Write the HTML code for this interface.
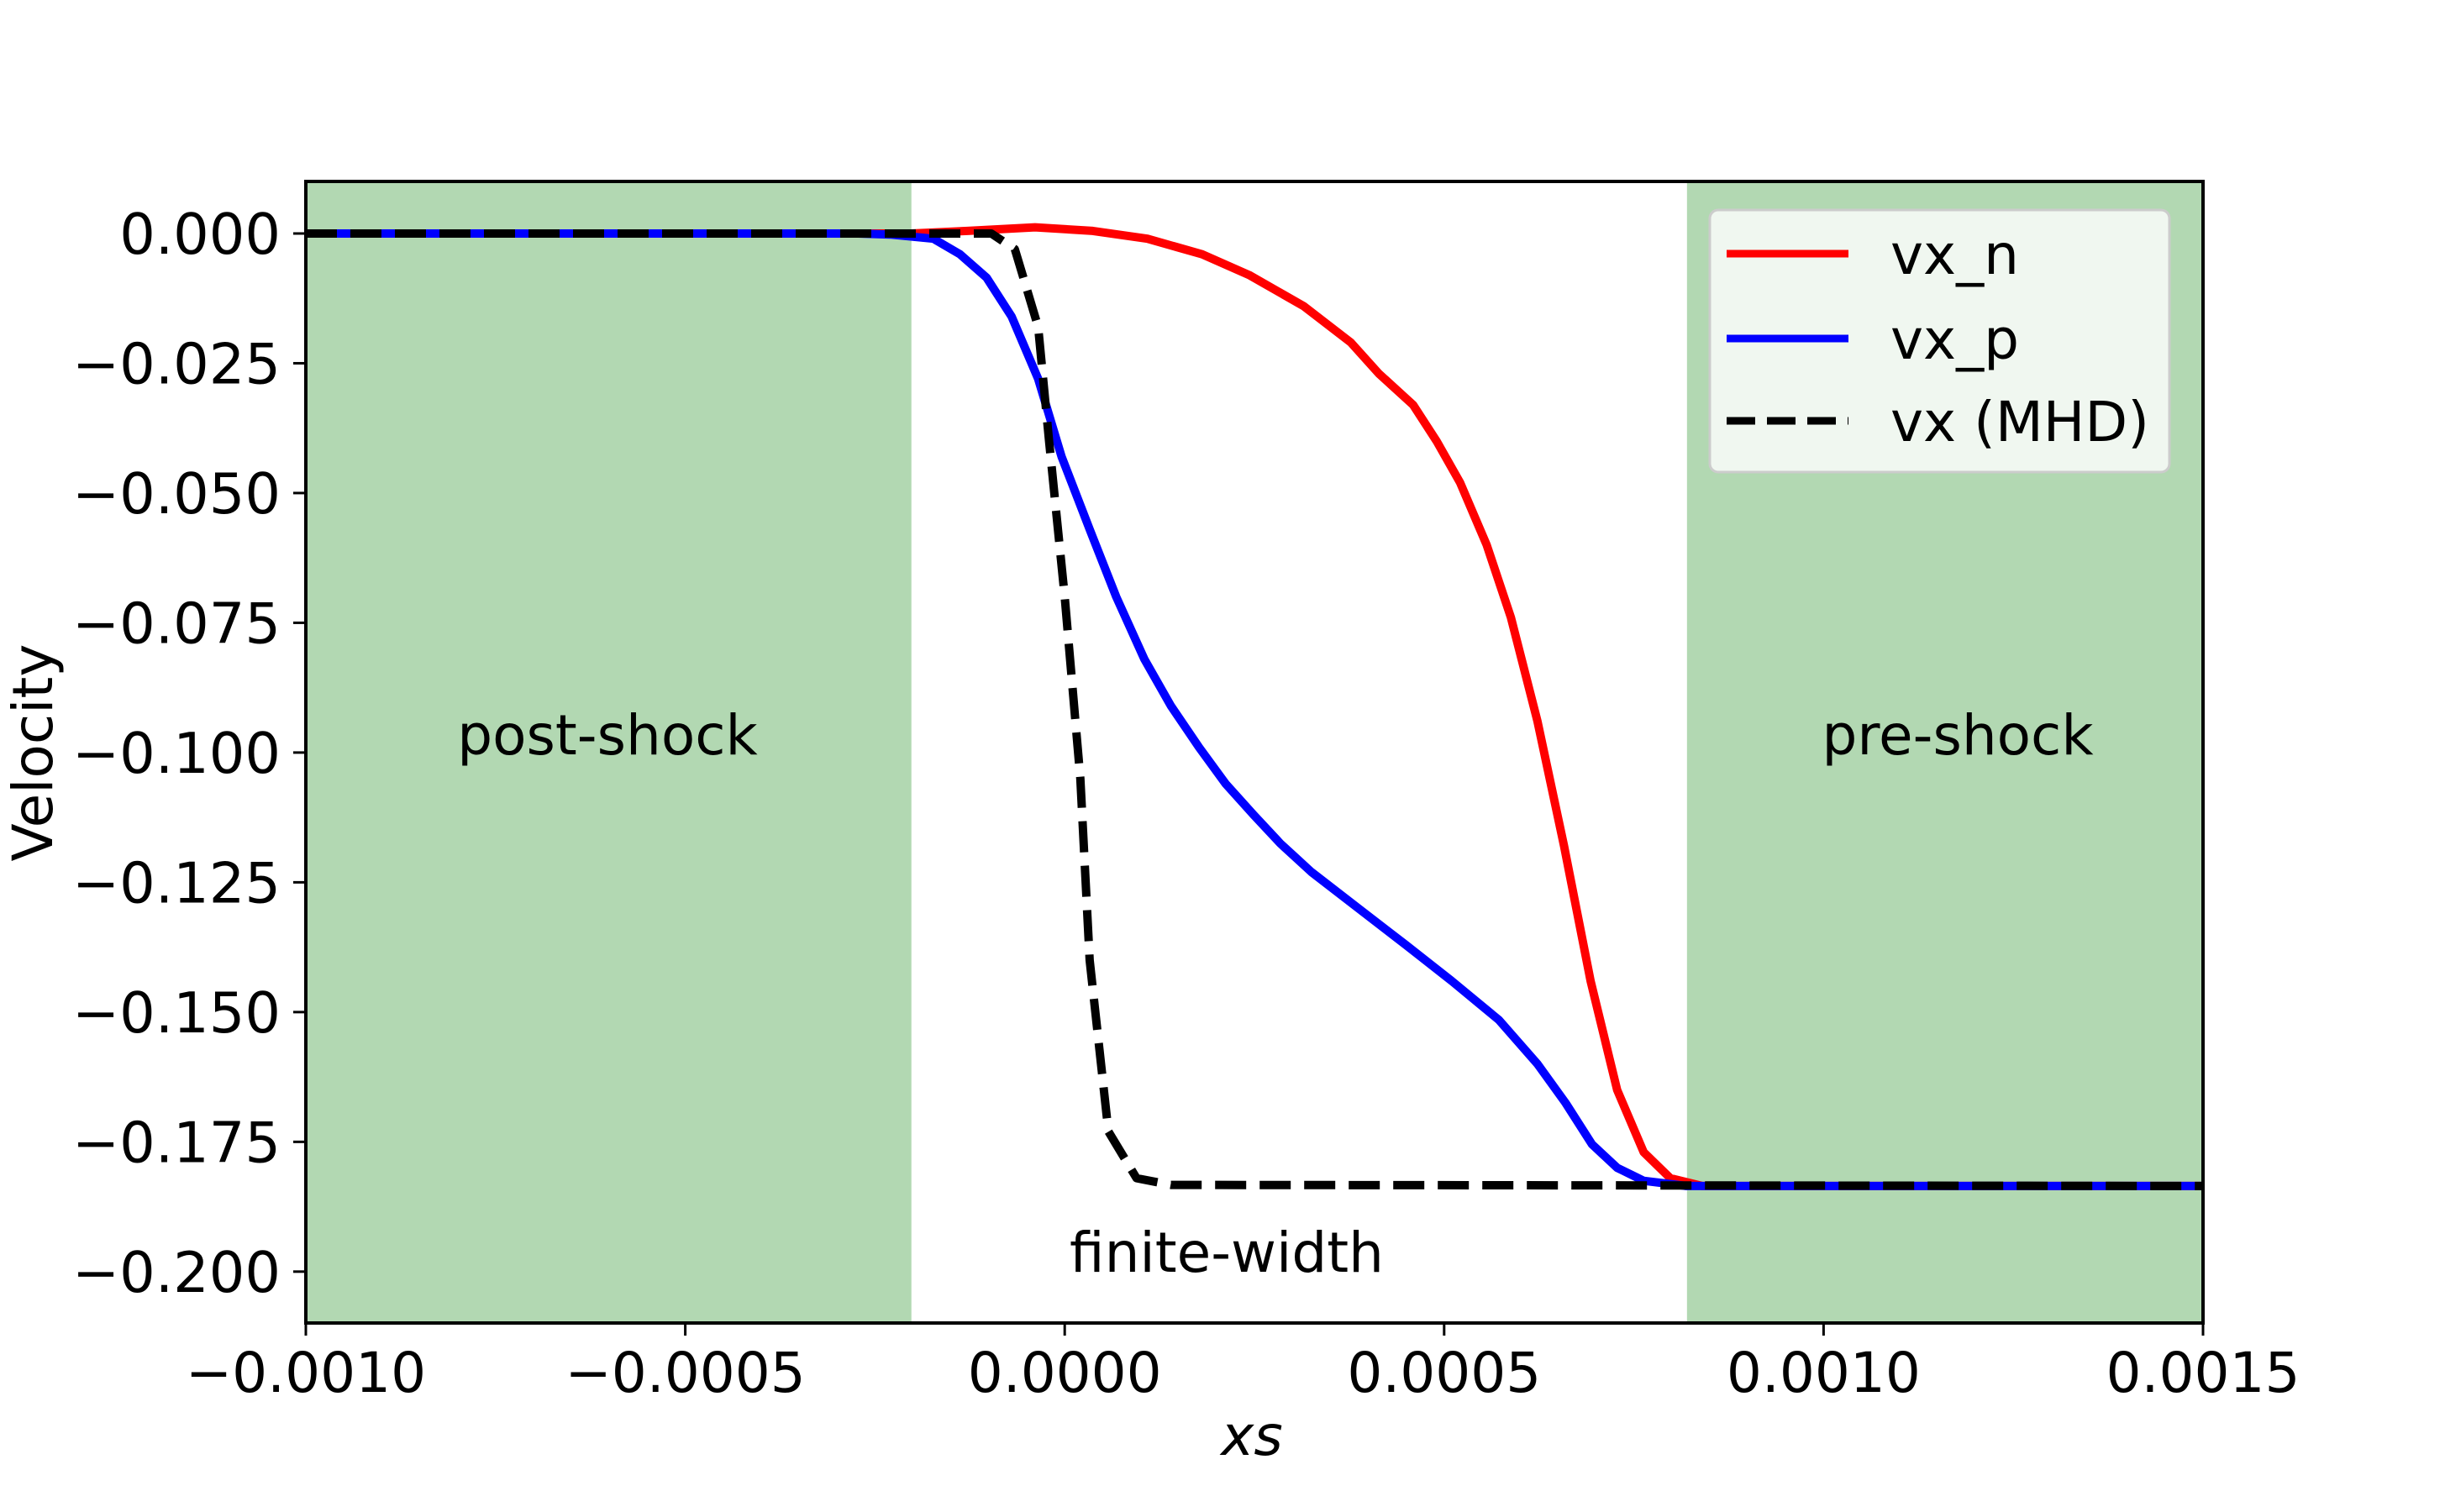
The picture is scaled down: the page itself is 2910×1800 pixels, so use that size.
<!DOCTYPE html>
<html><head><meta charset="utf-8">
<style>
html,body{margin:0;padding:0;background:#fff;}
svg{display:block;font-family:"DejaVu Sans","Liberation Sans",sans-serif;}
</style></head>
<body>
<svg id="chart" width="2910" height="1800" viewBox="0 0 2910 1800" xmlns="http://www.w3.org/2000/svg">
<g id="spans"></g>
<g id="series"></g>
<g id="axes"></g>
<text x="723" y="898" font-size="66" text-anchor="middle">post-shock</text>
<text x="2330" y="898" font-size="66" text-anchor="middle">pre-shock</text>
<text x="1460" y="1514" font-size="66" text-anchor="middle">finite-width</text>
<text x="1490" y="1732" font-size="66" font-style="italic" text-anchor="middle">xs</text>
<text transform="translate(62,896) rotate(-90)" font-size="66" text-anchor="middle">Velocity</text>
<g>
<rect x="2035" y="250" width="547" height="312" rx="10" fill="#fff" fill-opacity="0.8" stroke="#ccc" stroke-width="3"/>
<line x1="2055" y1="302" x2="2200" y2="302" stroke="#ff0000" stroke-width="9"/>
<text x="2250" y="326" font-size="66">vx_n</text>
<line x1="2055" y1="403" x2="2200" y2="403" stroke="#0000ff" stroke-width="9"/>
<text x="2250" y="427" font-size="66">vx_p</text>
<line x1="2055" y1="501" x2="2200" y2="501" stroke="#000" stroke-width="9" stroke-dasharray="34,14"/>
<text x="2250" y="525" font-size="66">vx (MHD)</text>
</g>
</svg>
<script>
const xTicks=[-0.001,-0.0005,0,0.0005,0.001,0.0015];
const xTickLabels=["\u22120.0010","\u22120.0005","0.0000","0.0005","0.0010","0.0015"];
const yTicks=[0,-0.025,-0.05,-0.075,-0.1,-0.125,-0.15,-0.175,-0.2];
const yTickLabels=["0.000","\u22120.025","\u22120.050","\u22120.075","\u22120.100","\u22120.125","\u22120.150","\u22120.175","\u22120.200"];
const spanPost=[-0.001,-0.000202];
const spanPre=[0.00082,0.0015];
const nX=[-0.001,-0.000202,-0.000128,-0.0000391,0.000037,0.000109,0.000181,0.000243,0.000315,0.000377,0.000414,0.000459,0.00049,0.000521,0.000556,0.000588,0.000623,0.000658,0.000693,0.000728,0.000763,0.000798,0.00084,0.0015];
const nY=[0,0,0.0005,0.0012,0.0005,-0.001,-0.004,-0.008,-0.014,-0.021,-0.027,-0.033,-0.04,-0.048,-0.06,-0.074,-0.094,-0.118,-0.144,-0.165,-0.177,-0.182,-0.1835,-0.1835];
const pX=[-0.001,-0.000272,-0.00023,-0.000173,-0.000138,-0.000103,-0.00007,-0.000035,-0.0000041,0.0000329,0.0000679,0.000105,0.00014,0.000177,0.000212,0.000249,0.000284,0.000325,0.000387,0.000449,0.00051,0.000572,0.000623,0.00066,0.000695,0.000728,0.000763,0.000819,0.0015];
const pY=[0,0,-0.0002,-0.001,-0.004,-0.0085,-0.016,-0.028,-0.043,-0.057,-0.07,-0.082,-0.091,-0.099,-0.106,-0.112,-0.1175,-0.123,-0.13,-0.137,-0.144,-0.1515,-0.16,-0.1675,-0.1755,-0.18,-0.1825,-0.1835,-0.1835];
const mX=[-0.001,-0.0000967,-0.0000658,-0.000035,-0.0000206,0,0.0000206,0.0000329,0.0000576,0.0000947,0.00014,0.0015];
const mY=[0,0,-0.003,-0.018,-0.04,-0.07,-0.105,-0.14,-0.173,-0.182,-0.1833,-0.1835];

const L=364,R=2622,T=216,B=1575;
const xmin=-0.001,xmax=0.0015,ymax=0.01003,ymin=-0.2099;
const sx=v=>L+(v-xmin)/(xmax-xmin)*(R-L);
const sy=v=>T+(ymax-v)/(ymax-ymin)*(B-T);
const NS="http://www.w3.org/2000/svg";
function mk(tag,attrs,parent){const e=document.createElementNS(NS,tag);for(const k in attrs)e.setAttribute(k,attrs[k]);parent.appendChild(e);return e;}
const spans=document.getElementById('spans');
[spanPost,spanPre].forEach((s,i)=>{
  const r=mk('rect',{x:sx(s[0]),y:T,width:sx(s[1])-sx(s[0]),height:B-T,fill:'#b2d8b2'},spans);
  
  
});
const series=document.getElementById('series');
function line(xs,ys,color,dash,name){
  const d=xs.map((x,i)=>(i?'L':'M')+sx(x).toFixed(1)+','+sy(ys[i]).toFixed(1)).join('');
  const p=mk('path',{d:d,fill:'none',stroke:color,'stroke-width':10,'stroke-linejoin':'round'},series);
  if(dash)p.setAttribute('stroke-dasharray',dash);
  
  
}
line(nX,nY,'#ff0000',null,'series-vx-n');
line(pX,pY,'#0000ff',null,'series-vx-p');
line(mX,mY,'#000000','37,16','series-vx-mhd');
const axes=document.getElementById('axes');
const frame=mk('rect',{x:L,y:T,width:R-L,height:B-T,fill:'none',stroke:'#000','stroke-width':4},axes);


xTicks.forEach((v,i)=>{
  const x=sx(v);
  const t=mk('line',{x1:x,y1:B,x2:x,y2:B+15,stroke:'#000','stroke-width':3},axes);
  
  
  const tx=mk('text',{x:x,y:B+82,'font-size':66,'text-anchor':'middle'},axes);
  tx.textContent=xTickLabels[i];
  
  
});
yTicks.forEach((v,i)=>{
  const y=sy(v);
  const t=mk('line',{x1:L-15,y1:y,x2:L,y2:y,stroke:'#000','stroke-width':3},axes);
  
  
  const tx=mk('text',{x:L-30,y:y+24,'font-size':67,'text-anchor':'end'},axes);
  tx.textContent=yTickLabels[i];
  
  
});
</script>
</body></html>
